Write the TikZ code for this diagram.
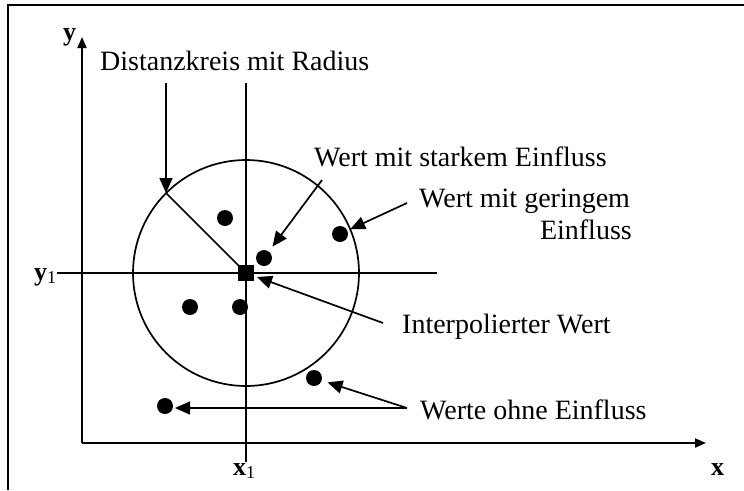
\documentclass[tikz,border=0pt]{standalone}
\usepackage{fontspec}
\setmainfont{Liberation Serif}
\usetikzlibrary{arrows.meta}
\newcommand{\tief}[1]{{\fontsize{18}{18}\selectfont\mdseries\raisebox{-3pt}{#1}}}
\begin{document}
\begin{tikzpicture}[x=1pt,y=-1pt,line join=round,
    punkt/.style={circle,fill,inner sep=0pt,minimum size=16pt},
    quadrat/.style={rectangle,fill,inner sep=0pt,minimum size=16pt},
    achse/.style={line width=2pt,-{Triangle[length=11pt,width=9pt]}},
    linie/.style={line width=1.7pt},
    pfeil/.style={line width=1.7pt,-{Triangle[length=15pt,width=13pt]}},
    beschr/.style={inner sep=0pt,font=\fontsize{28}{30}\selectfont},
    achslab/.style={inner sep=0pt,font=\fontsize{26}{28}\selectfont\bfseries}]

  \useasboundingbox (0,0) rectangle (744,490);
  % Rahmen (nur oben und links sichtbar)
  \draw[line width=2.5pt] (7,5) -- (744,5)  (8,5) -- (8,490);

  % ======================= Achsen und Fadenkreuz ===================
  \coordinate (o)  at ( 82,443);
  \coordinate (ye) at ( 82, 37);
  \coordinate (xe) at (706,443);
  \coordinate (vo) at (246, 83);
  \coordinate (vu) at (246,462);
  \coordinate (hl) at ( 57,273);
  \coordinate (hr) at (437,273);
  \draw[achse] (o) -- (ye);
  \draw[achse] (o) -- (xe);
  \draw[linie] (vo) -- (vu)  (hl) -- (hr);

  \node[achslab,anchor=base west] (ly)  at ( 63, 40) {y};
  \node[achslab,anchor=base west] (lx)  at (711,475) {x};
  \node[achslab,anchor=base west] (ly1) at ( 34,280) {y\tief{1}};
  \node[achslab,anchor=base west] (lx1) at (233,475) {x\tief{1}};

  % ======================= Distanzkreis ===================
  \coordinate (m) at (246,273);
  \coordinate (rad) at (166,193);            % Punkt auf dem Kreis bei 135 Grad
  \draw[linie] (m) circle [radius=113pt];
  \draw[linie] (m) -- (rad);

  \node[quadrat] (iw) at (246,273) {};       % interpolierter Wert
  \node[punkt] (p1) at (225,218) {};
  \node[punkt] (p2) at (340,234) {};         % geringer Einfluss
  \node[punkt] (p3) at (264,258) {};         % starker Einfluss
  \node[punkt] (p4) at (190,307) {};
  \node[punkt] (p5) at (240,307) {};
  \node[punkt] (p6) at (314,378) {};         % ohne Einfluss
  \node[punkt] (p7) at (165,406) {};         % ohne Einfluss

  % ======================= Beschriftungen ===================
  \node[beschr,anchor=base west] (tRadius) at (100, 70) {Distanzkreis mit Radius};
  \node[beschr,anchor=base west] (tStark)  at (314,166) {Wert mit starkem Einfluss};
  \node[beschr,anchor=base west] (tGering) at (419,207) {Wert mit geringem};
  \node[beschr,anchor=base east] (tGering2) at (632,239) {Einfluss};
  \node[beschr,anchor=base west] (tInterp) at (402,333) {Interpolierter Wert};
  \node[beschr,anchor=base west] (tOhne)   at (420,419) {Werte ohne Einfluss};

  \coordinate (aRadius) at (166, 83);
  \coordinate (aStark)  at (322,180);
  \coordinate (aGering) at (407,203);
  \coordinate (aInterp) at (383,323);
  \coordinate (aOhne)   at (407,408);

  \draw[pfeil] (aRadius) -- (rad);
  \draw[pfeil,shorten >=6pt] (aStark) -- (p3);
  \draw[pfeil,shorten >=3pt] (aGering) -- (p2);
  \draw[pfeil,shorten >=3pt] (aInterp) -- (iw);
  \draw[pfeil,shorten >=6pt] (aOhne) -- (p6);
  \draw[pfeil,shorten >=10pt] (aOhne) -- (p7.center |- aOhne);

\end{tikzpicture}
\end{document}
